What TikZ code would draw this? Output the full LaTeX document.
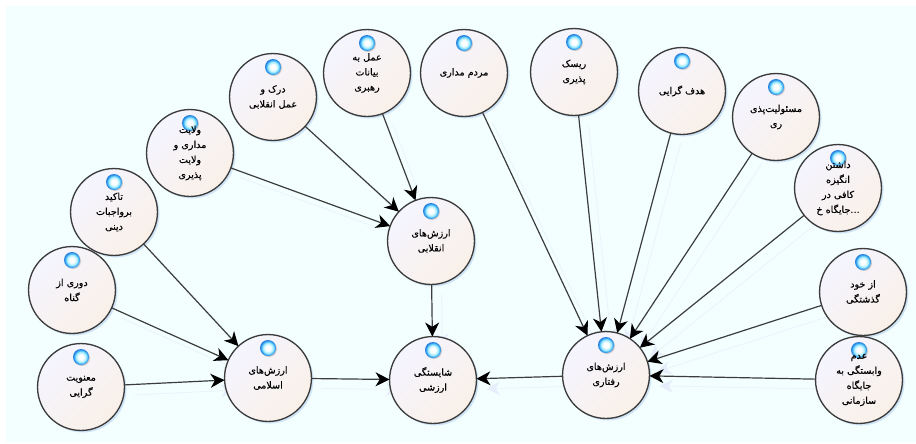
\documentclass[tikz,border=0pt]{standalone}
\usepackage{fontspec}
\usetikzlibrary{arrows.meta,shadows}
\newfontfamily\arabicfont[Script=Arabic,FakeBold=0.3]{DejaVu Sans}
\TeXXeTstate=1
\newcommand{\rl}[1]{\beginR #1\endR}
\definecolor{canvasbg}{HTML}{F3FFFF}
\definecolor{circletl}{HTML}{F5F5FF}
\definecolor{circlebr}{HTML}{F9F0E8}
\definecolor{edgegray}{HTML}{3C3C3C}
\definecolor{ghostline}{HTML}{EAF5FB}
\definecolor{ghosttip}{HTML}{E6EDFB}
\definecolor{softblue}{HTML}{A8C4EE}
\definecolor{ballmid}{HTML}{A8EEFF}
\definecolor{ballring}{HTML}{3FB2F7}
\definecolor{balledge}{HTML}{2078D8}
\pgfdeclarelayer{canvaslayer}
\pgfdeclarelayer{ghostlayer}
\pgfsetlayers{canvaslayer,ghostlayer,main}
\pgfdeclareradialshading{ballsh}{\pgfpoint{0bp}{0bp}}{%
 color(0bp)=(white); color(8bp)=(white); color(16bp)=(ballmid);
 color(21bp)=(ballring); color(25bp)=(balledge); color(50bp)=(balledge)}
\tikzset{
 x=0.75pt,y=-0.75pt,
 concept/.style={circle,draw=edgegray,line width=1pt,minimum size=65.2pt,inner sep=0pt,outer sep=0pt,
   align=center,font=\arabicfont\fontsize{7.2}{11.25}\selectfont,text=black,
   shading=axis,left color=circletl,right color=circlebr,shading angle=45,
   general shadow={shadow xshift=1.6pt,shadow yshift=-1.6pt,scale=1.03,fill=softblue,opacity=.18},
   general shadow={shadow xshift=1.4pt,shadow yshift=-1.4pt,scale=1,fill=softblue,opacity=.35},
   path picture={
     \fill[black,opacity=.18] ([xshift=.7pt,yshift=21.8pt]path picture bounding box.center) circle (6pt);
     \shade[shading=ballsh] ([yshift=22.5pt]path picture bounding box.center) circle (6pt);}},
 link/.style={draw=edgegray,line width=.9pt,-{Stealth[length=10.5pt,width=10.5pt,inset=3.2pt,color=black]}},
 ghostlink/.style={draw=ghostline,line width=.7pt,-{Stealth[length=10pt,width=10pt,inset=3pt,color=ghosttip]},
   transform canvas={shift={(7.5pt,-7.5pt)}}}
}
\begin{document}
\begin{tikzpicture}
\useasboundingbox (0,0) rectangle (916,443);
\begin{pgfonlayer}{canvaslayer}
\fill[canvasbg] (6,6) rectangle (916,442);
\end{pgfonlayer}
\node[concept] (a1) at (273,97) {\rl{درک و}\\\rl{عمل انقلابی}};
\node[concept] (a2) at (367,73) {\rl{عمل به}\\\rl{بیانات}\\\rl{رهبری}};
\node[concept] (a3) at (190,153) {\rl{ولایت}\\\rl{مداری و}\\\rl{ولایت}\\\rl{پذیری}};
\node[concept] (b1) at (114,212) {\rl{تاکید}\\\rl{برواجبات}\\\rl{دینی}};
\node[concept] (b2) at (72,290) {\rl{دوری از}\\\rl{گناه}};
\node[concept] (b3) at (81,387) {\rl{معنویت}\\\rl{گرایی}};
\node[concept] (c1) at (464,73) {\rl{مردم مداری}};
\node[concept] (c2) at (574,72) {\rl{ریسک}\\\rl{پذیری}};
\node[concept] (c3) at (682,91) {\rl{هدف گرایی}};
\node[concept] (c4) at (776,117) {\rl{مسئولیت‌پذی}\\\rl{ری}};
\node[concept] (c5) at (838,188) {\rl{داشتن}\\\rl{انگیزه}\\\rl{کافی در}\\\rl{...جایگاه خ}};
\node[concept] (c6) at (863,292) {\rl{از خود}\\\rl{گذشتگی}};
\node[concept] (c7) at (859,380) {\rl{عدم}\\\rl{وابستگی به}\\\rl{جایگاه}\\\rl{سازمانی}};
\node[concept] (rev) at (431,241) {\rl{ارزش‌های}\\\rl{انقلابی}};
\node[concept] (isl) at (268,378) {\rl{ارزش‌های}\\\rl{اسلامی}};
\node[concept] (beh) at (606,375) {\rl{ارزش‌های}\\\rl{رفتاری}};
\node[concept] (val) at (433,380) {\rl{شایستگی}\\\rl{ارزشی}};
\begin{pgfonlayer}{ghostlayer}
\foreach \s/\t in {a1/rev,a2/rev,a3/rev,b1/isl,b2/isl,b3/isl,c1/beh,c2/beh,c3/beh,c4/beh,c5/beh,c6/beh,c7/beh,rev/val,isl/val,beh/val}
  \draw[ghostlink] (\s) -- (\t);
\end{pgfonlayer}
\foreach \s/\t in {a1/rev,a2/rev,a3/rev,b1/isl,b2/isl,b3/isl,c1/beh,c2/beh,c3/beh,c4/beh,c5/beh,c6/beh,c7/beh,rev/val,isl/val,beh/val}
  \draw[link] (\s) -- (\t);
\end{tikzpicture}
\end{document}
